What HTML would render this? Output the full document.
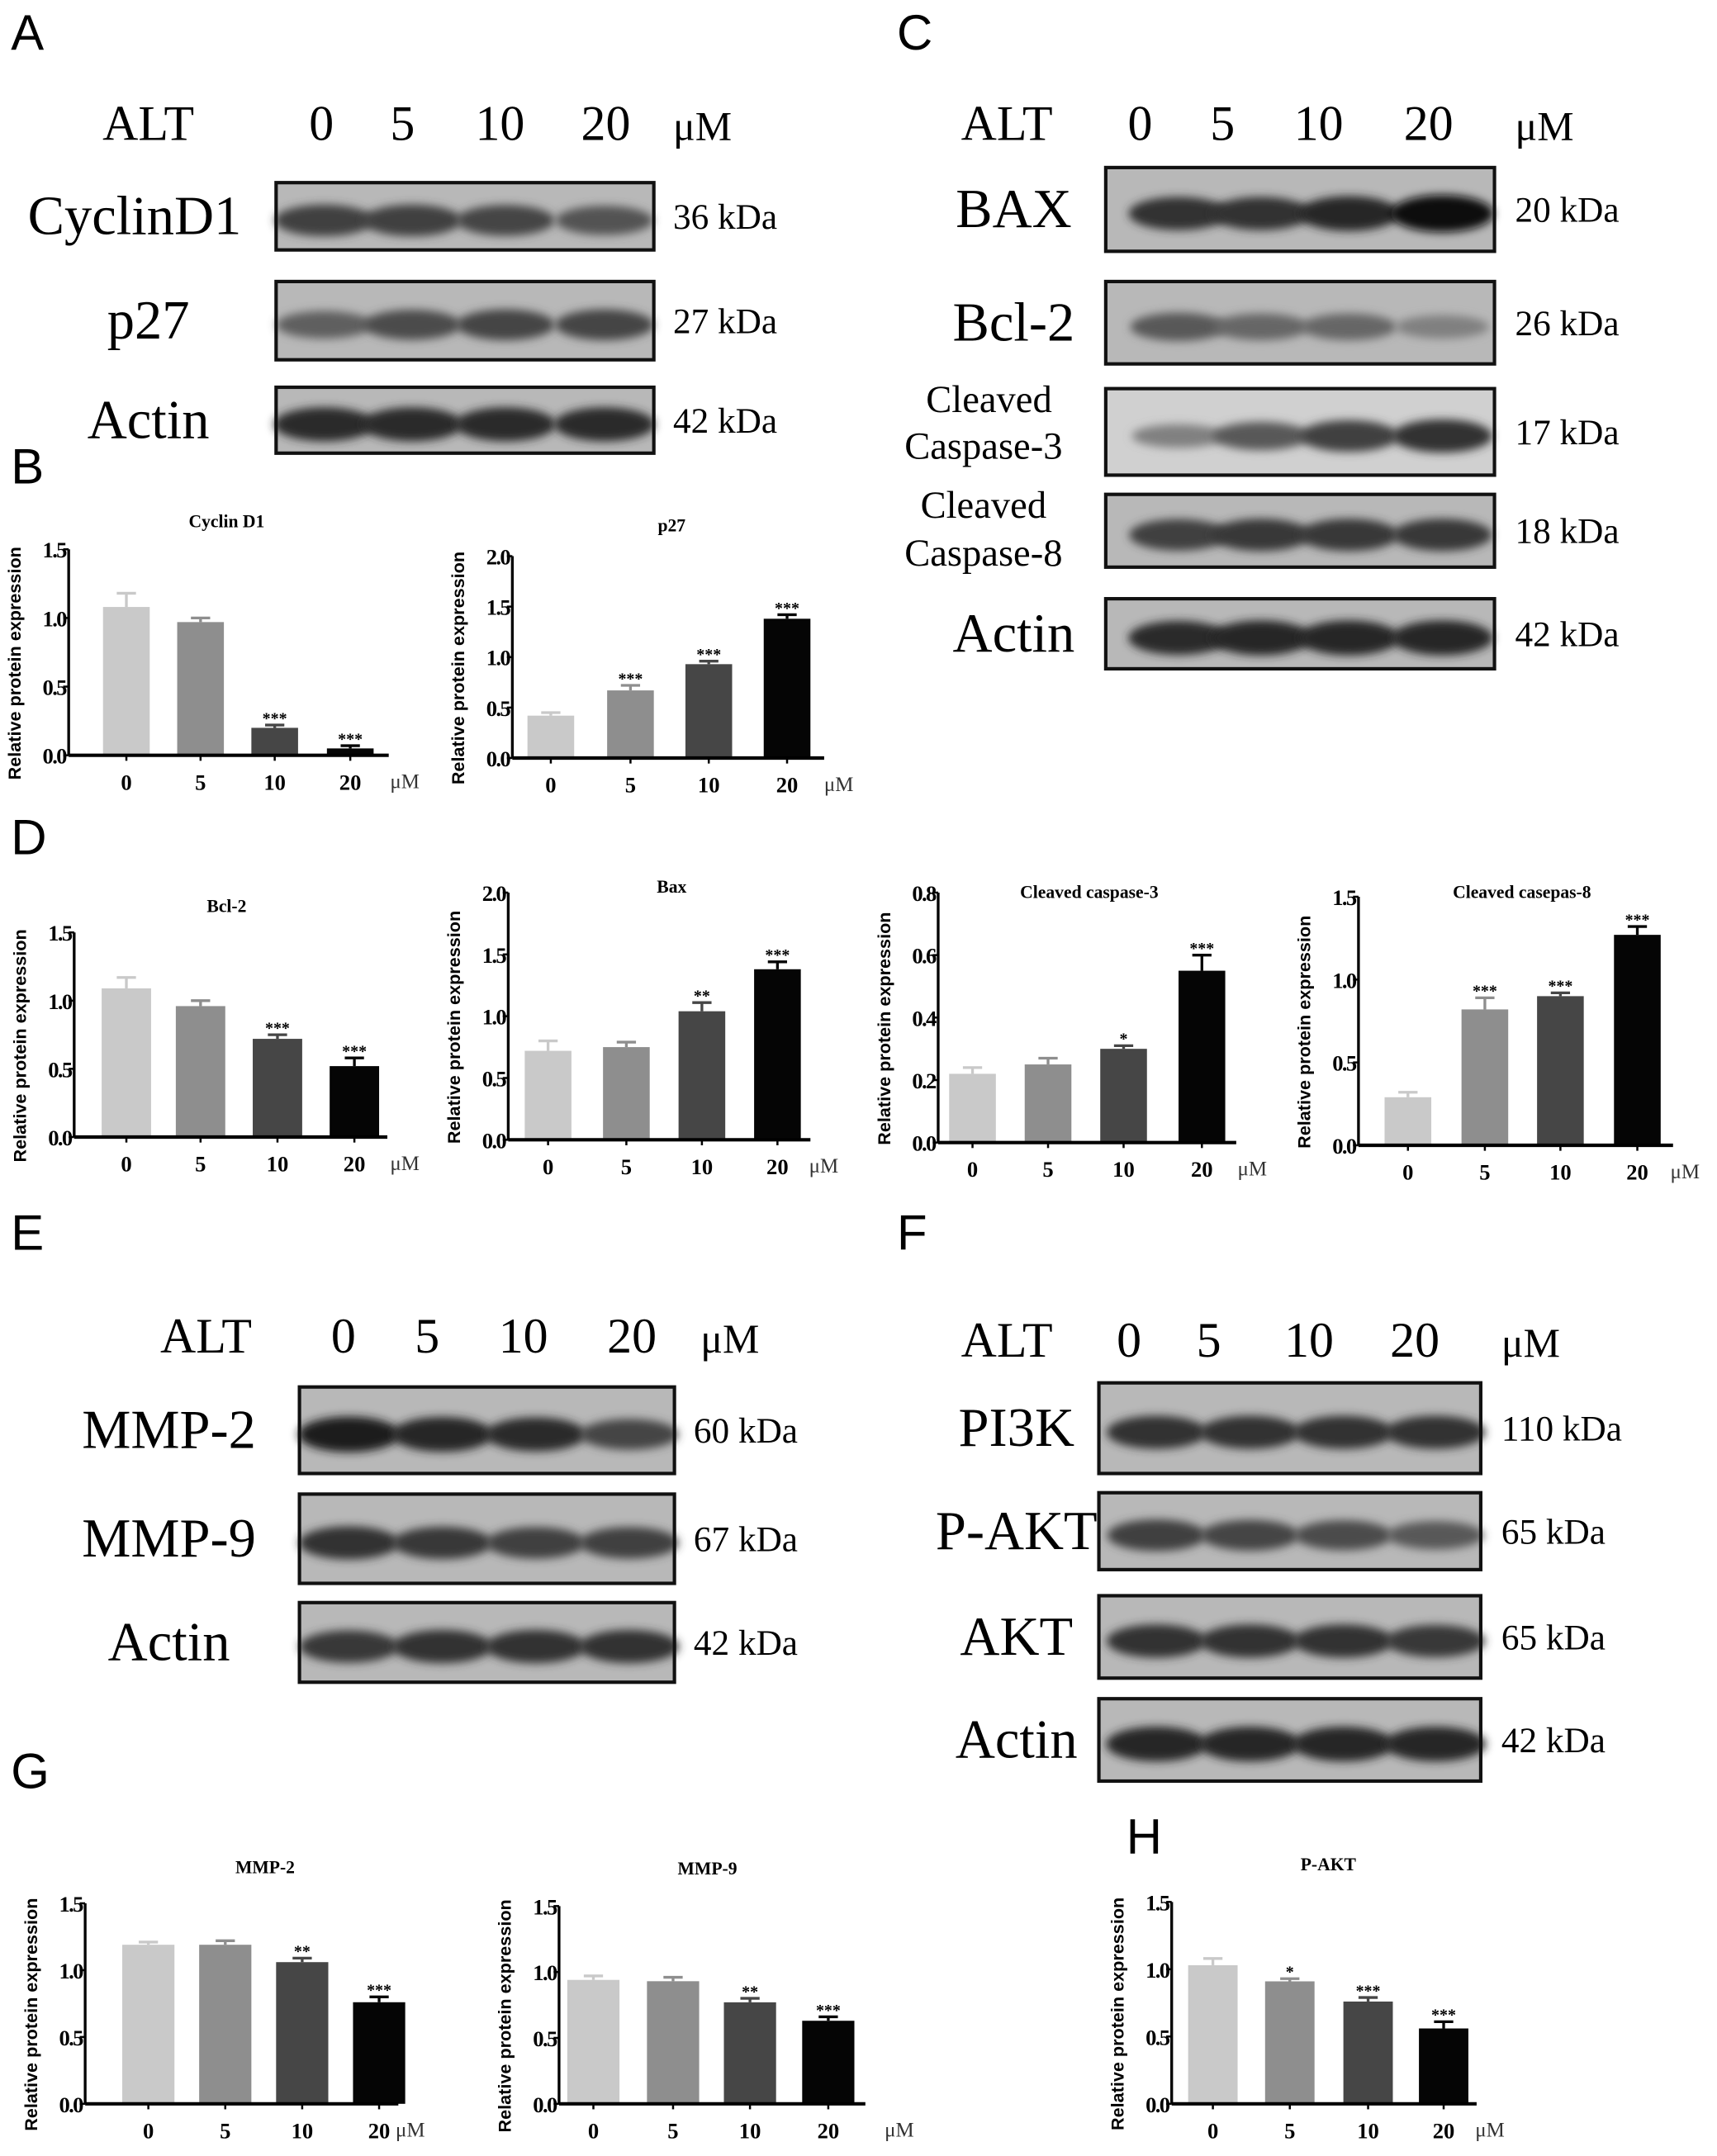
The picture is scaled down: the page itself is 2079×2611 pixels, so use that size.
<!DOCTYPE html>
<html><head><meta charset="utf-8"><style>
html,body{margin:0;padding:0;background:#fff}
svg{display:block}
</style></head><body>
<svg id="fig" xmlns="http://www.w3.org/2000/svg" width="2079" height="2611" viewBox="0 0 1250 1570" preserveAspectRatio="none">
<defs>
<filter id="blur" x="-30%" y="-80%" width="160%" height="260%"><feGaussianBlur stdDeviation="3.2"/></filter>
</defs>
<g id="root"></g>
</svg>
<script>
// ---- chart data ----
const categories = ['0','5','10','20'];
const cyclinVals = [1.08,0.97,0.20,0.05], cyclinErr=[0.10,0.03,0.02,0.02], cyclinSig=['','','***','***'];
const p27Vals = [0.42,0.67,0.93,1.38], p27Err=[0.03,0.05,0.03,0.04], p27Sig=['','***','***','***'];
const bcl2Vals=[1.09,0.96,0.72,0.52], bcl2Err=[0.08,0.04,0.03,0.06], bcl2Sig=['','','***','***'];
const baxVals=[0.72,0.75,1.04,1.38], baxErr=[0.08,0.04,0.07,0.06], baxSig=['','','**','***'];
const cc3Vals=[0.22,0.25,0.30,0.55], cc3Err=[0.02,0.02,0.01,0.05], cc3Sig=['','','*','***'];
const cc8Vals=[0.29,0.82,0.90,1.27], cc8Err=[0.03,0.07,0.02,0.05], cc8Sig=['','***','***','***'];
const mmp2Vals=[1.19,1.19,1.06,0.76], mmp2Err=[0.02,0.03,0.03,0.04], mmp2Sig=['','','**','***'];
const mmp9Vals=[0.94,0.93,0.77,0.63], mmp9Err=[0.03,0.03,0.03,0.03], mmp9Sig=['','','**','***'];
const paktVals=[1.03,0.91,0.76,0.56], paktErr=[0.05,0.02,0.03,0.05], paktSig=['','*','***','***'];
const ticks15=['0.0','0.5','1.0','1.5'], ticks20=['0.0','0.5','1.0','1.5','2.0'], ticks08=['0.0','0.2','0.4','0.6','0.8'];

const NS='http://www.w3.org/2000/svg';
const root=document.getElementById('root');
function el(tag,attrs,parent,txt){const e=document.createElementNS(NS,tag);for(const k in attrs)e.setAttribute(k,attrs[k]);if(txt!==undefined)e.textContent=txt;(parent||root).appendChild(e);return e;}
const barColors=['#c9c9c9','#8e8e8e','#464646','#050505'];
const serif='"Liberation Serif", serif';

function chart(name,title,vals,errs,sig,ticks,L){
  const g=el('g',{});
  
  
  const ymax=parseFloat(ticks[ticks.length-1]);
  const y=v=>L.y0-(v/ymax)*(L.y0-L.y1);
  const x=i=>L.cx[i];
  el('text',{x:L.tx,y:L.ty,'font-family':serif,'font-size':13,'font-weight':'bold','text-anchor':'middle',},g,title);
  vals.forEach((v,i)=>{
    const b=el('rect',{x:x(i)-L.bw/2,y:y(v),width:L.bw,height:L.y0-y(v),fill:barColors[i]},g);
    
    
    const top=y(v+errs[i]);
    el('line',{x1:x(i),x2:x(i),y1:y(v),y2:top,stroke:barColors[i],'stroke-width':2},g);
    el('line',{x1:x(i)-7,x2:x(i)+7,y1:top,y2:top,stroke:barColors[i],'stroke-width':2},g);
    if(sig[i]){const s=el('text',{x:x(i),y:top-1,'font-family':serif,'font-size':12,'font-weight':'bold','text-anchor':'middle'},g,sig[i]);
      }
    const t=el('text',{x:x(i),y:L.y0+25,'font-family':serif,'font-size':16,'font-weight':'bold','text-anchor':'middle'},g,categories[i]);
    
    el('line',{x1:x(i),x2:x(i),y1:L.y0,y2:L.y0+4,stroke:'#000','stroke-width':1.5},g);
  });
  el('line',{x1:L.ax,x2:L.ax,y1:L.y1,y2:L.y0,stroke:'#000','stroke-width':2,},g);
  el('line',{x1:L.ax,x2:L.xe,y1:L.y0,y2:L.y0,stroke:'#000','stroke-width':2.5,},g);
  ticks.forEach(tk=>{const v=parseFloat(tk);
    el('line',{x1:L.ax-4,x2:L.ax,y1:y(v),y2:y(v),stroke:'#000','stroke-width':1.5},g);
    const t=el('text',{x:L.ax-2,y:y(v)+6,'font-family':serif,'font-size':16,'font-weight':'bold','text-anchor':'end','letter-spacing':-1},g,tk);
    
  });
  const yl=(L.y0+L.y1)/2+8;
  const yt=el('text',{x:0,y:0,'font-family':'"Liberation Sans", sans-serif','font-size':13,'font-weight':'bold','text-anchor':'middle',transform:`translate(${L.ax-35},${yl}) rotate(-90)`},g,'Relative protein expression');
  
  const u=el('text',{x:L.ux,y:L.y0+24,'font-family':serif,'font-size':15,'fill':'#333'},g,'μM');
  
}

chart('cyclin-d1','Cyclin D1',cyclinVals,cyclinErr,cyclinSig,ticks15,{ax:50,xe:283,y0:550,y1:400,cx:[92,146,200,255],bw:34,tx:165,ty:384,ux:284});
chart('p27','p27',p27Vals,p27Err,p27Sig,ticks20,{ax:373,xe:600,y0:552,y1:405,cx:[401,459,516,573],bw:34,tx:489,ty:387,ux:600});
chart('bcl-2','Bcl-2',bcl2Vals,bcl2Err,bcl2Sig,ticks15,{ax:54,xe:282,y0:828,y1:679,cx:[92,146,202,258],bw:36,tx:165,ty:664,ux:284});
chart('bax','Bax',baxVals,baxErr,baxSig,ticks20,{ax:370,xe:590,y0:830,y1:650,cx:[399,456,511,566],bw:34,tx:489,ty:650,ux:589});
chart('cleaved-caspase-3','Cleaved caspase-3',cc3Vals,cc3Err,cc3Sig,ticks08,{ax:683,xe:900,y0:832,y1:650,cx:[708,763,818,875],bw:34,tx:793,ty:654,ux:901});
chart('cleaved-caspase-8','Cleaved casepas-8',cc8Vals,cc8Err,cc8Sig,ticks15,{ax:989,xe:1218,y0:834,y1:653,cx:[1025,1081,1136,1192],bw:34,tx:1108,ty:654,ux:1216});
chart('mmp-2','MMP-2',mmp2Vals,mmp2Err,mmp2Sig,ticks15,{ax:62,xe:290,y0:1532,y1:1386,cx:[108,164,220,276],bw:38,tx:193,ty:1364,ux:288});
chart('mmp-9','MMP-9',mmp9Vals,mmp9Err,mmp9Sig,ticks15,{ax:407,xe:630,y0:1532,y1:1388,cx:[432,490,546,603],bw:38,tx:515,ty:1365,ux:644});
chart('p-akt','P-AKT',paktVals,paktErr,paktSig,ticks15,{ax:853,xe:1075,y0:1532,y1:1385,cx:[883,939,996,1051],bw:36,tx:967,ty:1362,ux:1074});

// ---- western blots ----
function blot(name,x1,x2,y1,y2,lanes,intens,bg){
  const g=el('g',{});
  
  
  el('rect',{x:x1,y:y1,width:x2-x1,height:y2-y1,fill:bg||'#b8b8b8'},g);
  const cy=(y1+y2)/2+3;
  intens.forEach((v,i)=>{
    const c=Math.round(160-130*v);
    const b=el('ellipse',{cx:lanes[i],cy:cy,rx:33+v*4,ry:7+v*6,fill:`rgb(${c},${c},${c})`,filter:'url(#blur)'},g);
    
    
  });
  el('rect',{x:x1,y:y1,width:x2-x1,height:y2-y1,fill:'none',stroke:'#111','stroke-width':2.5},g);
}
function txt(name,x,y,s,size,anchor,fam,weight){
  const t=el('text',{x:x,y:y,'font-size':size,'text-anchor':anchor||'start','font-family':fam||serif,'font-weight':weight||'normal'},root,s);
  
  
}
const sans='"Liberation Sans", sans-serif';
[['A',8,36],['B',8,352],['C',653,36],['D',8,622],['E',8,910],['F',653,910],['G',8,1302],['H',820,1350]].forEach(p=>txt('panel-label-'+p[0].toLowerCase(),p[1],p[2],p[0],36,'start',sans));

function header(x,lanes,y,mu){
  txt('alt-label',x,y,'ALT',36,'middle');
  ['0','5','10','20'].forEach((d,i)=>txt('dose-'+d,lanes[i],y,d,36,'middle'));
  txt('unit-um',mu,y,'μM',30);
}
const lanesA=[236,300,368,440];
header(108,[234,293,364,441],102,490);
[['cyclind1','CyclinD1',133,182,[0.75,0.75,0.7,0.6],36],['p27','p27',205,262,[0.5,0.65,0.7,0.7],27],['actin-a','Actin',282,330,[0.9,0.9,0.9,0.9],42]].forEach(r=>{
  blot(r[0],201,476,r[2],r[3],lanesA,r[4]);
  txt(r[0]+'-label',r[0]==='cyclind1'?98:108,(r[2]+r[3])/2+13,r[1],40,'middle');
  txt(r[0]+'-kda',490,(r[2]+r[3])/2+9,r[5]+' kDa',26);
});
header(733,[830,890,960,1040],102,1103);
const lanesC=[858,918,982,1050];
[['bax','BAX',122,183,[0.85,0.85,0.95,1.1],20],['bcl-2','Bcl-2',205,265,[0.55,0.45,0.45,0.25],26],['cleaved-caspase-3','',283,346,[0.25,0.55,0.75,0.85],17],['cleaved-caspase-8','',360,413,[0.75,0.8,0.8,0.8],18],['actin-c','Actin',436,487,[0.9,0.95,0.95,0.95],42]].forEach(r=>{
  blot(r[0],805,1088,r[2],r[3],lanesC,r[4],r[0]==='cleaved-caspase-3'?'#d0d0d0':null);
  if(r[1])txt(r[0]+'-label',738,(r[2]+r[3])/2+13,r[1],40,'middle');
  txt(r[0]+'-kda',1103,(r[2]+r[3])/2+9,r[5]+' kDa',26);
});
txt('cc3-label-1',720,300,'Cleaved',28,'middle');txt('cc3-label-2',716,334,'Caspase-3',28,'middle');
txt('cc8-label-1',716,377,'Cleaved',28,'middle');txt('cc8-label-2',716,412,'Caspase-8',28,'middle');
header(150,[250,311,381,460],985,510);
const lanesE=[254,322,390,458];
[['mmp-2','MMP-2',1010,1073,[1.0,0.95,0.9,0.7],60],['mmp-9','MMP-9',1088,1153,[0.85,0.8,0.75,0.75],67],['actin-e','Actin',1167,1225,[0.8,0.85,0.85,0.85],42]].forEach(r=>{
  blot(r[0],218,491,r[2],r[3],lanesE,r[4]);
  txt(r[0]+'-label',123,(r[2]+r[3])/2+13,r[1],40,'middle');
  txt(r[0]+'-kda',505,(r[2]+r[3])/2+9,r[5]+' kDa',26);
});
header(733,[822,880,953,1030],988,1093);
const lanesF=[842,910,978,1045];
[['pi3k','PI3K',1007,1073,[0.85,0.85,0.85,0.85],110],['p-akt','P-AKT',1087,1143,[0.75,0.7,0.65,0.55],65],['akt','AKT',1162,1222,[0.85,0.85,0.85,0.8],65],['actin-f','Actin',1237,1297,[0.95,0.95,0.95,0.95],42]].forEach(r=>{
  blot(r[0],800,1078,r[2],r[3],lanesF,r[4]);
  txt(r[0]+'-label',740,(r[2]+r[3])/2+13,r[1],40,'middle');
  txt(r[0]+'-kda',1093,(r[2]+r[3])/2+9,r[5]+' kDa',26);
});
</script>
</body></html>
